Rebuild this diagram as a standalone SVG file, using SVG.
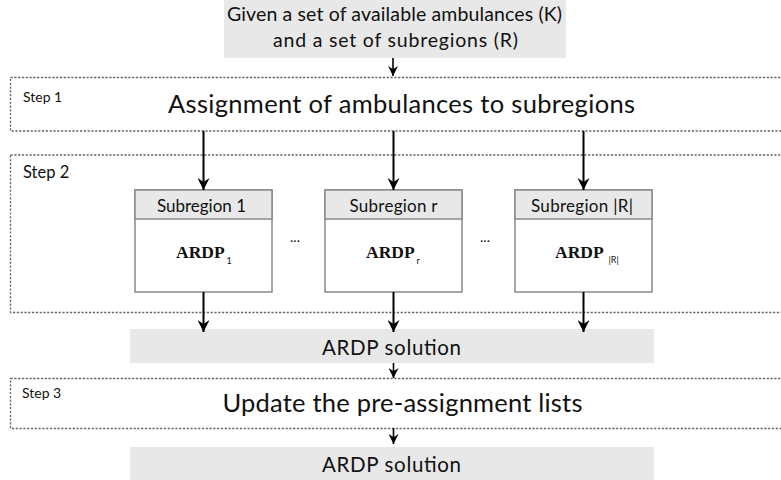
<svg xmlns="http://www.w3.org/2000/svg" width="781" height="480" viewBox="0 0 781 480">
<defs>
<marker id="ah" markerUnits="userSpaceOnUse" viewBox="0 0 12 12" refX="12" refY="6" markerWidth="12" markerHeight="12" orient="auto">
<path d="M0,0 L12,6 L0,12 L4,6 z" fill="#000"/>
</marker>
<marker id="ahs" markerUnits="userSpaceOnUse" viewBox="0 0 12 12" refX="12" refY="6" markerWidth="10" markerHeight="10" orient="auto">
<path d="M0,0 L12,6 L0,12 L4,6 z" fill="#000"/>
</marker>
</defs>
<style>
text{font-family:Lato,"Open Sans","Liberation Sans",sans-serif;fill:#111}
.grey{fill:#e8e8e8;stroke:none}
.step{fill:none;stroke:#666;stroke-width:1.3;stroke-dasharray:2.2 1.6}
.box{fill:#fff;stroke:#8a8a8a;stroke-width:1.5}
.hdr{fill:#e8e8e8;stroke:#8a8a8a;stroke-width:1.5}
.lbl{font-size:14px}
.big{font-size:25.5px;text-anchor:middle}
.mid{font-size:19.5px;text-anchor:middle}
.sol{font-size:20.5px;text-anchor:middle}
.sub{font-size:17px;text-anchor:middle}
.ardp{font-family:"Liberation Serif","Times New Roman",serif;font-weight:bold;font-size:17.5px}
.idx{font-size:9px}
.dots{font-size:14px;text-anchor:middle}
.arr{stroke:#000;stroke-width:2;fill:none;marker-end:url(#ah)}
.arrs{stroke:#000;stroke-width:1.6;fill:none;marker-end:url(#ahs)}
</style>

<g id="input">
<rect class="grey" x="224" y="0" width="342" height="58"/>
<text class="mid" x="394.5" y="21" textLength="335">Given a set of available ambulances (K)</text>
<text class="mid" x="395.5" y="47" textLength="245">and a set of subregions (R)</text>
</g>

<g id="step1">
<rect class="step" x="10.5" y="77.5" width="790" height="53.5"/>
<text class="lbl" x="23" y="102" style="font-size:14px">Step 1</text>
<text class="big" x="401.5" y="113" textLength="467">Assignment of ambulances to subregions</text>
</g>

<g id="step2">
<rect class="step" x="10.5" y="155" width="790" height="157.5"/>
<text class="lbl" x="23" y="178" style="font-size:16.5px">Step 2</text>
<text class="dots" x="295" y="242">...</text>
<text class="dots" x="485" y="242">...</text>
</g>

<g id="sub1">
<rect class="box" x="135" y="190" width="137" height="102"/>
<rect class="hdr" x="135" y="190" width="137" height="29"/>
<text class="sub" x="201.5" y="212" textLength="89">Subregion 1</text>
<text x="176" y="258"><tspan class="ardp">ARDP</tspan><tspan class="idx" dx="2" dy="6">1</tspan></text>
</g>

<g id="subr">
<rect class="box" x="325" y="190" width="137" height="102"/>
<rect class="hdr" x="325" y="190" width="137" height="29"/>
<text class="sub" x="393.5" y="212" textLength="88">Subregion r</text>
<text x="366" y="258"><tspan class="ardp">ARDP</tspan><tspan class="idx" dx="2" dy="6">r</tspan></text>
</g>

<g id="subR">
<rect class="box" x="515" y="190" width="137" height="102"/>
<rect class="hdr" x="515" y="190" width="137" height="29"/>
<text class="sub" x="582" y="212" textLength="102">Subregion |R|</text>
<text x="555" y="258"><tspan class="ardp">ARDP</tspan><tspan class="idx" dx="5" dy="5">|R|</tspan></text>
</g>

<g id="solution1">
<rect class="grey" x="130" y="329" width="524" height="34"/>
<text class="sol" x="391.5" y="355" textLength="139">ARDP solution</text>
</g>

<g id="step3">
<rect class="step" x="10.5" y="378.5" width="790" height="50"/>
<text class="lbl" x="22" y="398" style="font-size:14px">Step 3</text>
<text class="big" x="402.5" y="412" textLength="360">Update the pre-assignment lists</text>
</g>

<g id="solution2">
<rect class="grey" x="130" y="447" width="524" height="33"/>
<text class="sol" x="391.5" y="472" textLength="139">ARDP solution</text>
</g>

<g id="connectors">
<line class="arrs" x1="393" y1="58" x2="393" y2="76"/>
<line class="arr" x1="203.5" y1="131" x2="203.5" y2="190"/>
<line class="arr" x1="393.5" y1="131" x2="393.5" y2="190"/>
<line class="arr" x1="583.5" y1="131" x2="583.5" y2="190"/>
<line class="arr" x1="203.5" y1="292" x2="203.5" y2="332"/>
<line class="arr" x1="393.5" y1="292" x2="393.5" y2="332"/>
<line class="arr" x1="583.5" y1="292" x2="583.5" y2="332"/>
<line class="arrs" x1="393.5" y1="363" x2="393.5" y2="378"/>
<line class="arrs" x1="393.5" y1="428" x2="393.5" y2="444"/>
</g>
</svg>
